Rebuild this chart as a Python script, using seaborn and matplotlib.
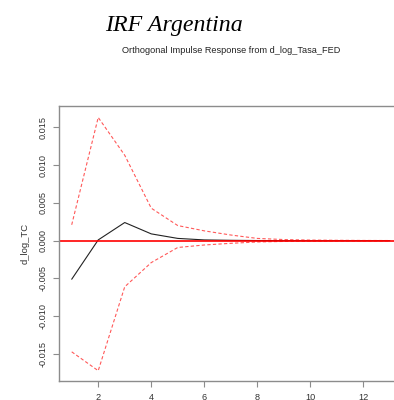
import matplotlib
matplotlib.use("Agg")
import matplotlib.pyplot as plt
import seaborn as sns
import pandas as pd

# Orthogonal impulse response of d_log_TC to a d_log_Tasa_FED shock
horizon = [1, 2, 3, 4, 5, 6, 7, 8, 9, 10, 11, 12, 13]
irf = [-0.0051, 0.0001, 0.0024, 0.0009, 0.0003, 0.0001, 0.00005,
       0.00002, 0.00001, 0.0, 0.0, 0.0, 0.0]
upper = [0.0021, 0.0163, 0.0113, 0.0043, 0.0020, 0.0013, 0.00075,
         0.0003, 0.00015, 0.00008, 0.00005, 0.00003, 0.00002]
lower = [-0.0147, -0.0172, -0.0061, -0.0029, -0.0009, -0.00057, -0.00035,
         -0.00017, -0.0001, -0.00006, -0.00004, -0.00003, -0.00002]
xticks = [2, 4, 6, 8, 10, 12]
yticks = [-0.015, -0.010, -0.005, 0.000, 0.005, 0.010, 0.015]
ytick_labels = ["-0.015", "-0.010", "-0.005", "0.000", "0.005", "0.010", "0.015"]

df = pd.DataFrame({"h": horizon, "irf": irf, "upper": upper, "lower": lower})

sns.set_theme(style="white")
plt.rcParams["font.family"] = ["Liberation Sans", "DejaVu Sans"]

fig = plt.figure(figsize=(3.94, 4.0), dpi=100)
ax = fig.add_axes([0.1497, 0.0475, 0.872, 0.6863])

sns.lineplot(data=df, x="h", y="irf", ax=ax, color="#222222", linewidth=0.8)
sns.lineplot(data=df, x="h", y="upper", ax=ax, color="red", alpha=0.65,
             linewidth=0.8, linestyle=(0, (3, 2)))
sns.lineplot(data=df, x="h", y="lower", ax=ax, color="red", alpha=0.65,
             linewidth=0.8, linestyle=(0, (3, 2)))
ax.axhline(0, color="red", linewidth=1.2)

ax.set_xlim(0.52, 13.48)
ax.set_ylim(-0.01856, 0.01775)
ax.set_xticks(xticks)
ax.set_xticklabels([str(t) for t in xticks])
ax.set_yticks(yticks)
ax.set_yticklabels(ytick_labels, rotation=90, va="center")
ax.tick_params(axis="both", direction="out", length=4.3, width=0.8,
               color="#8c8c8c", labelsize=6.6, labelcolor="#333333", pad=4,
               left=True, bottom=True)
ax.set_xlabel("")
ax.set_ylabel("d_log_TC", fontsize=6.8, color="#333333", labelpad=6)
for s in ax.spines.values():
    s.set_color("#8c8c8c")
    s.set_linewidth(1.0)

fig.text(0.586, 0.873, "Orthogonal Impulse Response from d_log_Tasa_FED",
         ha="center", va="center", fontsize=6.6, color="#222222")
fig.text(0.442, 0.937, "IRF Argentina", ha="center", va="center",
         fontsize=17.2, style="italic", family=["Liberation Serif"], color="black")

fig.savefig("out.png", dpi=100)
